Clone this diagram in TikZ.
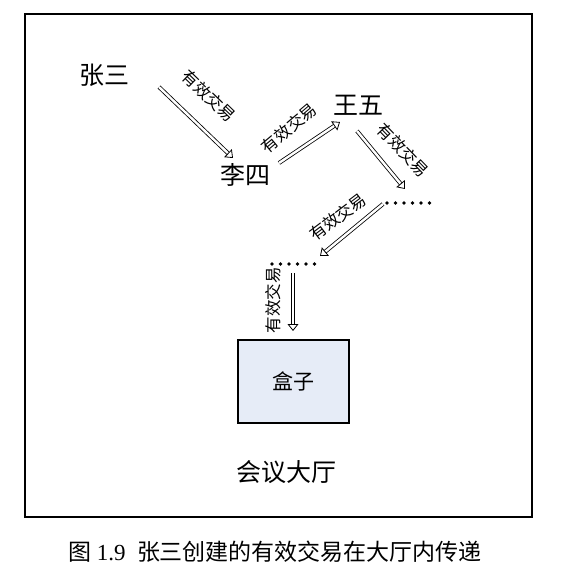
\documentclass[tikz,border=0pt]{standalone}
\usepackage{fontspec}
\setmainfont{Liberation Serif}
\newfontfamily\cjk{Noto Sans CJK SC}
\usetikzlibrary{arrows.meta}
\definecolor{boxfill}{HTML}{E6ECF7}
\tikzset{
  person/.style={font=\cjk\fontsize{25}{25}\selectfont, inner sep=0pt},
  tradelabel/.style={font=\cjk\fontsize{16.5}{16.5}\selectfont, inner sep=0pt},
  trade/.style={double, double distance=2.4pt, line width=0.8pt, -{Triangle[open,length=7pt,width=11pt]}},
}
\begin{document}
\begin{tikzpicture}[x=1pt,y=-1pt]
\useasboundingbox (0,0) rectangle (578,579);
\draw[line width=2pt] (25,14) rectangle (532,517);
% people
\node[person] (zs) at (104,75) {张三};
\node[person] (ls) at (245,175) {李四};
\node[person] (ww) at (358,105) {王五};
% dots
\foreach \i in {0,...,5} {\fill (387+\i*8.5,203) circle (1.9);}
\foreach \i in {0,...,5} {\fill (272+\i*8.5,264) circle (1.9);}
% arrow end points
\coordinate (a1s) at (159,87);  \coordinate (a1e) at (233,158);
\coordinate (a2s) at (279,163); \coordinate (a2e) at (340,122);
\coordinate (a3s) at (357,131); \coordinate (a3e) at (405,189);
\coordinate (a4s) at (383,204); \coordinate (a4e) at (320,256);
\coordinate (a5s) at (293,273); \coordinate (a5e) at (293,331);
\draw[trade] (a1s) -- (a1e);
\draw[trade] (a2s) -- (a2e);
\draw[trade] (a3s) -- (a3e);
\draw[trade] (a4s) -- (a4e);
\draw[trade] (a5s) -- (a5e);
% labels
\node[tradelabel, rotate=-44] (l1) at (209,96) {有效交易};
\node[tradelabel, rotate=40] (l2) at (289,128) {有效交易};
\node[tradelabel, rotate=-46] (l3) at (403,150) {有效交易};
\node[tradelabel, rotate=37] (l4) at (338,217) {有效交易};
\node[tradelabel, rotate=90] (l5) at (273,300) {有效交易};
% box
\node[draw, line width=2pt, fill=boxfill, minimum width=111pt, minimum height=83pt,
      font=\cjk\fontsize{21}{21}\selectfont] (box) at (293,381) {盒子};
\node[font=\cjk\fontsize{25}{25}\selectfont] (hall) at (286,472) {会议大厅};
\node[font=\fontsize{23}{23}\selectfont] (cap) at (275,552) {{\cjk 图} 1.9\ \ {\cjk 张三创建的有效交易在大厅内传递}};
\end{tikzpicture}
\end{document}
